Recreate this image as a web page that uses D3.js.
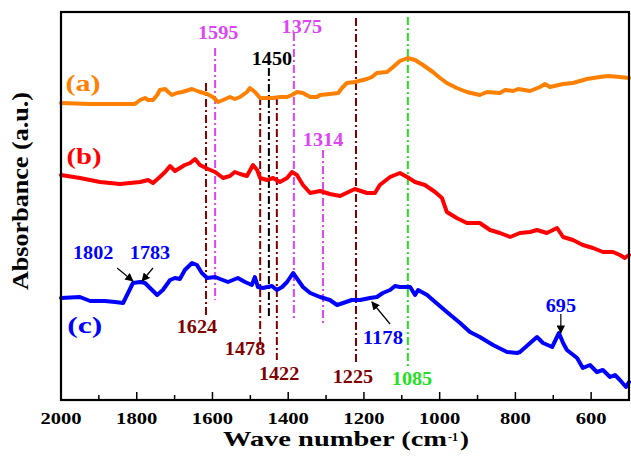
<!DOCTYPE html>
<html><head><meta charset="utf-8">
<script src="https://cdn.jsdelivr.net/npm/d3@7/dist/d3.min.js"></script>
<style>body{margin:0;background:#fff}svg{display:block}</style>
</head><body><div id="chart"></div>
<script>
// ---- data (wavenumber cm^-1, absorbance a.u.) ----
const seriesA = [[2000,2.97],[1923,2.96],[1844,2.96],[1805,2.96],[1791,3.00],[1778,3.02],[1770,3.00],[1757,3.00],[1746,3.05],[1739,3.10],[1725,3.11],[1717,3.08],[1707,3.05],[1694,3.07],[1680,3.08],[1654,3.11],[1633,3.08],[1614,3.06],[1599,3.03],[1585,2.98],[1572,3.00],[1554,3.03],[1541,3.01],[1527,3.03],[1509,3.08],[1501,3.12],[1488,3.08],[1474,3.02],[1456,3.02],[1440,3.02],[1422,3.03],[1403,3.03],[1390,3.05],[1377,3.08],[1361,3.07],[1342,3.03],[1324,3.03],[1316,3.05],[1290,3.06],[1268,3.07],[1258,3.12],[1245,3.17],[1224,3.18],[1192,3.21],[1179,3.23],[1166,3.27],[1139,3.28],[1123,3.33],[1105,3.39],[1084,3.42],[1065,3.40],[1044,3.35],[1018,3.28],[999,3.22],[981,3.17],[955,3.12],[928,3.08],[894,3.05],[875,3.08],[841,3.07],[827,3.10],[806,3.09],[793,3.11],[761,3.09],[735,3.13],[722,3.16],[709,3.13],[674,3.16],[648,3.17],[611,3.21],[577,3.23],[555,3.24],[524,3.23],[500,3.22]];
const seriesB = [[2000,2.25],[1950,2.22],[1897,2.18],[1844,2.16],[1818,2.17],[1791,2.18],[1770,2.20],[1757,2.17],[1739,2.23],[1725,2.28],[1712,2.34],[1699,2.29],[1686,2.32],[1673,2.35],[1659,2.37],[1646,2.41],[1633,2.35],[1612,2.31],[1593,2.28],[1572,2.22],[1554,2.24],[1541,2.28],[1527,2.26],[1509,2.24],[1493,2.35],[1482,2.30],[1474,2.22],[1456,2.20],[1440,2.22],[1422,2.18],[1403,2.22],[1390,2.28],[1377,2.25],[1361,2.15],[1342,2.07],[1316,2.09],[1290,2.06],[1263,2.04],[1224,2.11],[1192,2.07],[1171,2.07],[1158,2.15],[1131,2.23],[1105,2.27],[1086,2.23],[1065,2.18],[1039,2.15],[1012,2.08],[994,2.02],[981,1.88],[955,1.82],[928,1.77],[894,1.77],[867,1.70],[841,1.67],[814,1.63],[788,1.67],[761,1.68],[743,1.70],[717,1.67],[690,1.72],[674,1.63],[648,1.60],[622,1.55],[595,1.52],[569,1.48],[542,1.48],[524,1.45],[511,1.42],[500,1.45]];
const seriesC = [[2000,1.02],[1950,1.03],[1923,0.99],[1884,0.99],[1857,0.98],[1836,0.97],[1823,1.07],[1810,1.17],[1791,1.18],[1778,1.17],[1765,1.12],[1746,1.05],[1731,1.10],[1712,1.20],[1699,1.22],[1686,1.21],[1673,1.30],[1654,1.37],[1641,1.35],[1628,1.27],[1614,1.22],[1593,1.23],[1580,1.21],[1559,1.18],[1533,1.22],[1514,1.18],[1496,1.15],[1488,1.23],[1480,1.13],[1467,1.12],[1443,1.14],[1430,1.10],[1416,1.13],[1403,1.18],[1387,1.27],[1374,1.20],[1361,1.13],[1342,1.07],[1316,1.03],[1290,1.00],[1271,0.95],[1255,0.97],[1232,1.00],[1210,1.00],[1184,1.02],[1166,1.03],[1150,1.07],[1131,1.10],[1118,1.14],[1105,1.13],[1078,1.13],[1065,1.05],[1057,1.10],[1033,1.05],[1018,1.00],[981,0.88],[946,0.77],[920,0.68],[894,0.63],[859,0.55],[822,0.48],[796,0.47],[788,0.48],[761,0.57],[743,0.63],[727,0.57],[703,0.53],[685,0.67],[674,0.57],[664,0.50],[637,0.42],[622,0.32],[603,0.35],[585,0.28],[569,0.30],[550,0.23],[537,0.25],[524,0.20],[508,0.13],[500,0.18]];

const seriesNames = ["(a)", "(b)", "(c)"];
const seriesColors = ["#ff8000", "#ff0000", "#0000ff"];
const seriesLabelPos = [[1942,3.09],[1939,2.36],[1937,0.67]];

// vertical marker lines: [wavenumber, top, bottom, colour]
const markers = [
  [1617,3.17,0.83,"#800000"],
  [1593,3.52,1.00,"#dd44f5"],
  [1474,3.03,0.53,"#800000"],
  [1451,3.32,0.83,"#000000"],
  [1430,3.03,0.40,"#800000"],
  [1385,3.67,0.82,"#dd44f5"],
  [1308,2.50,0.75,"#dd44f5"],
  [1221,3.82,0.38,"#800000"],
  [1084,3.83,0.32,"#22e022"]
];
// peak labels: [text, wavenumber, absorbance, colour]
const peakLabels = [
  ["1595",1585,3.61,"#dd44f5"],
  ["1375",1364,3.67,"#dd44f5"],
  ["1450",1443,3.35,"#000000"],
  ["1314",1308,2.54,"#dd44f5"],
  ["1624",1641,0.67,"#800000"],
  ["1478",1514,0.45,"#800000"],
  ["1422",1424,0.20,"#800000"],
  ["1225",1229,0.17,"#800000"],
  ["1085",1073,0.15,"#22e022"],
  ["1802",1915,1.41,"#0000ff"],
  ["1783",1765,1.41,"#0000ff"],
  ["1178",1150,0.56,"#0000ff"],
  ["695",680,0.88,"#0000ff"]
];
// arrows: [w0,a0,w1,a1]
const arrows = [
  [1852,1.32,1810,1.19],
  [1757,1.32,1786,1.19],
  [1131,0.76,1179,0.98],
  [680,0.86,680,0.67]
];
const xMajorTicks = [2000,1800,1600,1400,1200,1000,800,600];
const xMinorTicks = [1900,1700,1500,1300,1100,900,700];

// ---- drawing ----
const W = 631, H = 463;
const m = {left:61, right:2, top:12, bottom:63};
const svg = d3.select("#chart").append("svg").attr("width",W).attr("height",H);
const x = d3.scaleLinear().domain([2000,500]).range([m.left, W-m.right]);
const y = d3.scaleLinear().domain([0,3.88]).range([H-m.bottom, m.top]);
const FONT = "'Liberation Serif','Times New Roman',Tinos,serif";

function fitText(g, str, px, py, size, color, perChar, anchor){
  return g.append("text").attr("x",px).attr("y",py)
    .attr("text-anchor",anchor||"middle").attr("font-family",FONT).attr("font-weight","bold")
    .attr("font-size",size).attr("fill",color)
    .attr("textLength", perChar*str.length).attr("lengthAdjust","spacingAndGlyphs")
    .text(str);
}

// marker lines
const dash = "8,3,2,3";
svg.append("g").selectAll("line").data(markers).join("line")
  .attr("x1",d=>x(d[0])).attr("x2",d=>x(d[0]))
  .attr("y1",d=>y(d[1])).attr("y2",d=>y(d[2]))
  .attr("stroke",d=>d[3]).attr("stroke-width",2).attr("stroke-dasharray",dash);

// series
const line = d3.line().x(d=>x(d[0])).y(d=>y(d[1]));
[seriesA, seriesB, seriesC].forEach((s,i)=>{
  svg.append("path").datum(s).attr("d",line).attr("fill","none")
    .attr("stroke",seriesColors[i]).attr("stroke-width",4)
    .attr("stroke-linejoin","round").attr("stroke-linecap","round");
});

// series labels
const gl = svg.append("g");
seriesNames.forEach((n,i)=>fitText(gl,n,x(seriesLabelPos[i][0]),y(seriesLabelPos[i][1]),24,seriesColors[i],11.7));

// peak labels
peakLabels.forEach(d=>fitText(gl,d[0],x(d[1]),y(d[2]),18,d[3],10.1));

// arrows
svg.append("defs").append("marker").attr("id","ah").attr("viewBox","0 0 10 10")
  .attr("refX",9).attr("refY",5).attr("markerWidth",7).attr("markerHeight",7)
  .attr("orient","auto").append("path").attr("d","M0,0L10,5L0,10z").attr("fill","#000");
svg.append("g").selectAll("line").data(arrows).join("line")
  .attr("x1",d=>x(d[0])).attr("y1",d=>y(d[1])).attr("x2",d=>x(d[2])).attr("y2",d=>y(d[3]))
  .attr("stroke","#000").attr("stroke-width",1.2).attr("marker-end","url(#ah)");

// frame
svg.append("rect").attr("x",m.left).attr("y",m.top)
  .attr("width",W-m.right-m.left).attr("height",H-m.bottom-m.top)
  .attr("fill","none").attr("stroke","#000").attr("stroke-width",2.2);

// x axis ticks (inward)
const y0 = H-m.bottom;
const ax = svg.append("g");
ax.selectAll("line.maj").data(xMajorTicks).join("line").attr("class","maj")
  .attr("x1",d=>x(d)).attr("x2",d=>x(d)).attr("y1",y0).attr("y2",y0-8)
  .attr("stroke","#000").attr("stroke-width",1.5);
ax.selectAll("line.min").data(xMinorTicks).join("line").attr("class","min")
  .attr("x1",d=>x(d)).attr("x2",d=>x(d)).attr("y1",y0).attr("y2",y0-5)
  .attr("stroke","#000").attr("stroke-width",1.5);
xMajorTicks.forEach(t=>fitText(ax,String(t),x(t),y0+24,17,"#000",10.3));

// axis titles
const tx0 = 223;
svg.append("text").attr("x",tx0).attr("y",446).attr("font-family",FONT).attr("font-weight","bold")
  .attr("font-size",21).attr("fill","#000").attr("textLength",224).attr("lengthAdjust","spacingAndGlyphs")
  .text("Wave number (cm");
svg.append("text").attr("x",tx0+225).attr("y",441).attr("font-family",FONT).attr("font-weight","bold")
  .attr("font-size",12).attr("fill","#000").attr("textLength",10).attr("lengthAdjust","spacingAndGlyphs")
  .text("-1");
svg.append("text").attr("x",tx0+237).attr("y",446).attr("font-family",FONT).attr("font-weight","bold")
  .attr("font-size",21).attr("fill","#000").attr("textLength",9).attr("lengthAdjust","spacingAndGlyphs")
  .text(")");

svg.append("text").attr("transform",`translate(28,191) rotate(-90)`)
  .attr("text-anchor","middle").attr("font-family",FONT).attr("font-weight","bold")
  .attr("font-size",24).attr("fill","#000")
  .attr("textLength",198).attr("lengthAdjust","spacingAndGlyphs").text("Absorbance (a.u.)");
</script></body></html>
